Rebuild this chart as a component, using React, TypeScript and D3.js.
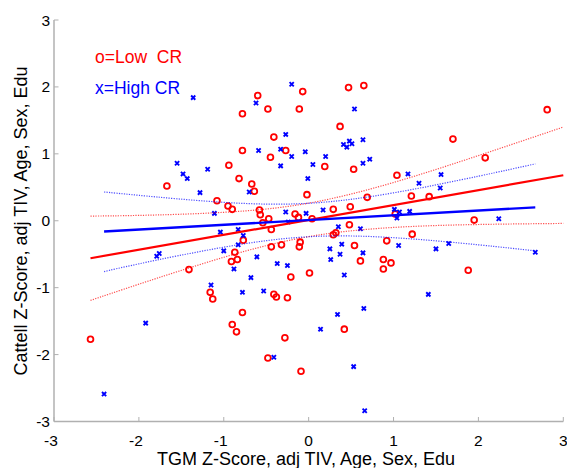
import React from "react";
import * as d3 from "d3";

const W = 567, H = 468;

const lowX = [-0.07,0.47,0.65,-0.60,-0.48,-0.11,-0.78,0.37,-0.41,-0.78,-0.45,-0.27,2.81,1.70,2.08,-1.67,-1.41,-0.94,0.19,0.53,-0.82,-0.67,-0.64,-0.02,-1.08,0.69,-0.95,-0.90,-0.58,-0.57,-0.16,-0.12,0.29,0.49,-0.47,-0.54,0.04,0.48,-0.44,0.29,0.32,-0.77,-0.44,-0.32,-0.11,-0.10,0.54,-0.87,-0.91,-0.84,0.61,0.88,0.88,0.97,-0.21,0.01,-1.16,-1.13,-0.41,-0.38,-0.25,-0.78,-0.90,-0.85,0.42,-0.28,-0.48,-0.09,1.04,1.21,1.42,1.02,1.95,1.22,0.92,1.88,-2.57];
const lowY = [1.93,1.99,2.02,1.87,1.67,1.67,1.60,1.41,1.25,1.05,0.95,1.05,1.66,1.22,0.94,0.52,-0.73,0.83,0.81,0.77,0.63,0.55,0.44,0.39,0.30,0.35,0.22,0.17,0.16,0.09,0.10,0.05,0.17,0.21,0.03,-0.03,0.03,-0.06,-0.13,-0.21,-0.18,-0.29,-0.39,-0.36,-0.39,-0.32,-0.37,-0.47,-0.61,-0.58,-0.60,-0.58,-0.72,-0.63,-0.84,-0.78,-1.07,-1.17,-1.10,-1.14,-1.15,-1.37,-1.55,-1.66,-1.62,-1.75,-2.05,-2.25,0.68,0.37,0.36,0.10,0.01,-0.20,-0.30,-0.74,-1.77];

const highX = [-0.20,-1.36,-0.62,0.54,-0.27,0.64,0.41,0.45,0.48,0.51,-0.59,-0.33,-0.20,-0.04,0.20,0.72,-1.55,-1.48,-1.43,-1.28,-1.79,-1.76,-1.19,-0.33,0.05,0.64,-0.01,-0.70,-1.11,-0.27,-0.03,0.17,-0.24,-0.83,-1.04,0.35,0.61,-0.77,-0.83,0.39,0.25,-1.00,0.37,0.64,-0.61,0.26,-0.88,-0.37,-0.25,-0.68,0.42,-1.15,-0.78,-0.53,0.65,0.34,0.14,-0.41,0.53,0.66,1.17,1.56,1.30,1.55,1.01,1.07,1.04,1.19,2.24,1.06,1.50,1.65,2.67,1.41,-1.92,-2.41];
const highY = [2.04,1.84,1.76,1.67,1.29,1.21,1.14,1.10,1.19,1.15,1.05,1.07,0.96,1.03,0.96,0.92,0.86,0.70,0.63,0.42,-0.53,-0.49,0.77,0.82,0.84,0.86,0.63,0.43,0.11,0.13,0.11,0.16,-0.02,-0.13,-0.17,-0.09,-0.12,-0.22,-0.36,-0.35,-0.42,-0.45,-0.50,-0.48,-0.54,-0.58,-0.72,-0.64,-0.67,-0.85,-0.81,-0.96,-1.07,-1.05,-1.31,-1.40,-1.62,-2.04,-2.18,-2.84,0.70,0.69,0.56,0.49,0.17,0.13,0.04,0.14,0.03,-0.37,-0.42,-0.34,-0.47,-1.10,-1.53,-2.59];

// fit lines (end points) and confidence bands
const lowFitX = [-2.57, 3.0];
const lowFitY = [-0.56, 0.68];
const lowCiX = [-2.57, -2, -1, 0, 1, 2, 3.0];
const lowCiUp = [0.07, 0.08, 0.126, 0.263, 0.572, 0.974, 1.40];
const lowCiLo = [-1.19, -0.948, -0.546, -0.237, -0.10, -0.056, -0.04];

const highFitX = [-2.41, 2.67];
const highFitY = [-0.16, 0.20];
const highCiX = [-2.41, -2, -1, 0, 1, 2, 2.67];
const highCiUp = [0.43, 0.38, 0.275, 0.261, 0.417, 0.666, 0.85];
const highCiLo = [-0.76, -0.644, -0.395, -0.239, -0.253, -0.36, -0.45];

const ticks = [-3, -2, -1, 0, 1, 2, 3];

const RED = "#ff0000";
const BLUE = "#0000ff";
const FONT = "'Liberation Sans', Arial, Helvetica, sans-serif";

export default function App() {
  const x = d3.scaleLinear().domain([-3, 3]).range([54, 563.3]);
  const y = d3.scaleLinear().domain([-3, 3]).range([421.5, 20]);
  const line = d3.line<[number, number]>().x(d => x(d[0])).y(d => y(d[1]));
  const curve = d3.line<[number, number]>().x(d => x(d[0])).y(d => y(d[1])).curve(d3.curveNatural);
  const zip = (a: number[], b: number[]) => a.map((v, i) => [v, b[i]] as [number, number]);
  const x0 = x(-3), yb = y(-3);
  const axisColor = "#b0b0b0";
  return (
    <svg width={W} height={H} style={{ position: "absolute", left: 0, top: 0, background: "#fff" }}>
      <rect width={W} height={H} fill="#fff" />
      {/* axes */}
      <line x1={x0} x2={x0} y1={y(3)} y2={yb} stroke={axisColor} strokeWidth={1.5} />
      <line x1={x0} x2={x(3)} y1={yb} y2={yb} stroke={axisColor} strokeWidth={1.5} />
      {ticks.map(t => (
        <g key={"x" + t}>
          <line x1={x(t)} x2={x(t)} y1={yb} y2={yb - 4.5} stroke={axisColor} strokeWidth={1} />
          <text x={x(t) - (t < 0 ? 3 : 0)} y={446} textAnchor="middle" fontFamily={FONT} fontSize={15.5} fill="#000">{t}</text>
        </g>
      ))}
      {ticks.map(t => (
        <g key={"y" + t}>
          <line x1={x0} x2={x0 + 4.5} y1={y(t)} y2={y(t)} stroke={axisColor} strokeWidth={1} />
          <text x={50} y={y(t) + 5.5} textAnchor="end" fontFamily={FONT} fontSize={15.5} fill="#000">{t}</text>
        </g>
      ))}
      <text x={306} y={465} textAnchor="middle" fontFamily={FONT} fontSize={18} fill="#000">TGM Z-Score, adj TIV, Age, Sex, Edu</text>
      <text transform={`translate(27,${221}) rotate(-90)`} textAnchor="middle" fontFamily={FONT} fontSize={18} fill="#000">Cattell Z-Score, adj TIV, Age, Sex, Edu</text>
      {/* legend */}
      <text x={95} y={62.5} fontFamily={FONT} fontSize={17.5} fill={RED} style={{ whiteSpace: "pre" }}>o=Low  CR</text>
      <text x={95} y={93.5} fontFamily={FONT} fontSize={17.5} fill={BLUE}>x=High CR</text>
      {/* points */}
      {lowX.map((v, i) => (
        <circle key={"l" + i} cx={x(v)} cy={y(lowY[i])} r={2.9} fill="none" stroke={RED} strokeWidth={1.8} />
      ))}
      {highX.map((v, i) => {
        const cx = x(v), cy = y(highY[i]), s = 2.1;
        return (
          <path key={"h" + i} d={`M${cx - s},${cy - s}L${cx + s},${cy + s}M${cx - s},${cy + s}L${cx + s},${cy - s}`} stroke={BLUE} strokeWidth={1.9} fill="none" />
        );
      })}
      {/* confidence bands */}
      <path d={curve(zip(lowCiX, lowCiUp)) || ""} fill="none" stroke={RED} strokeWidth={1.2} strokeDasharray="1.2 1.3" opacity={0.7} />
      <path d={curve(zip(lowCiX, lowCiLo)) || ""} fill="none" stroke={RED} strokeWidth={1.2} strokeDasharray="1.2 1.3" opacity={0.7} />
      <path d={curve(zip(highCiX, highCiUp)) || ""} fill="none" stroke={BLUE} strokeWidth={1.2} strokeDasharray="1.2 1.3" opacity={0.7} />
      <path d={curve(zip(highCiX, highCiLo)) || ""} fill="none" stroke={BLUE} strokeWidth={1.2} strokeDasharray="1.2 1.3" opacity={0.7} />
      {/* fit lines */}
      <path d={line(zip(lowFitX, lowFitY)) || ""} fill="none" stroke={RED} strokeWidth={2.2} />
      <path d={line(zip(highFitX, highFitY)) || ""} fill="none" stroke={BLUE} strokeWidth={2.4} />
    </svg>
  );
}
